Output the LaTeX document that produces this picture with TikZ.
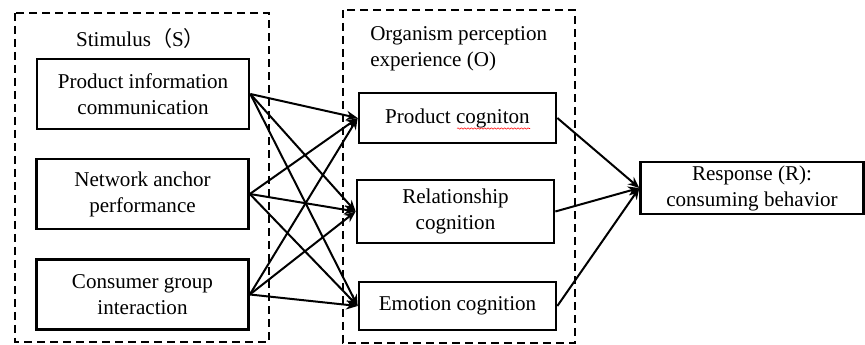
\documentclass[tikz,border=0pt]{standalone}
\usepackage{fontspec}
\setmainfont{Liberation Serif}
\newfontfamily\cjk{Noto Sans CJK SC}
\usetikzlibrary{arrows.meta,decorations.pathmorphing}

\begin{document}
\begin{tikzpicture}[x=0.75pt,y=-0.75pt,
    every node/.style={font=\fontsize{15.8}{19.5}\selectfont, inner sep=0pt},
    sbox/.style={draw, line width=2pt, align=center, minimum width=159pt, minimum height=52.5pt},
    obox/.style={draw, line width=2pt, align=center, minimum width=147.75pt},
    frame/.style={line width=1.9pt, dash pattern=on 6pt off 3.75pt},
    link/.style={line width=1.5pt, -{Stealth[length=8.5pt,width=7pt]}}]
    \useasboundingbox (0,0) rectangle (865,345) ;

    % dashed groups
    \draw [frame] (15,13) rectangle (269,342) ;
    \draw [frame] (343,10) rectangle (575,343) ;
    \node (slab) at (140.5,38) {Stimulus{\cjk （}S{\cjk ）}} ;
    \node (olab) [anchor=west, align=left] at (370,48.5) {Organism perception\\experience (O)} ;

    % stimulus
    \node (pi) [sbox] at (143,94) {Product information\\communication} ;
    \node (na) [sbox] at (142.5,194) {Network anchor\\performance} ;
    \node (cg) [sbox] at (142.5,294.5) {Consumer group\\interaction} ;

    % organism
    \node (pc) [obox, minimum height=37.5pt] at (457.5,118) {Product cogniton} ;
    \node (rc) [obox, minimum height=47.25pt] at (455.5,211.5) {Relationship\\cognition} ;
    \node (ec) [obox, minimum height=36pt] at (457.5,306) {Emotion cognition} ;
    \draw [red, line width=0.4pt, decorate, decoration={snake, amplitude=0.5pt, segment length=2.5pt}]
      (457,128.5) -- (530,128.5) ;

    % response
    \node (rs) [draw, line width=2pt, align=center, minimum width=167pt, minimum height=39pt]
      at (752,188) {Response (R):\\consuming behavior} ;

    \foreach \s in {pi,na,cg} {
      \foreach \t in {pc,rc,ec} \draw [link] (\s.east) -- (\t.west) ;
    }
    \foreach \t in {pc,rc,ec} \draw [link] (\t.east) -- (rs.west) ;

\end{tikzpicture}
\end{document}
